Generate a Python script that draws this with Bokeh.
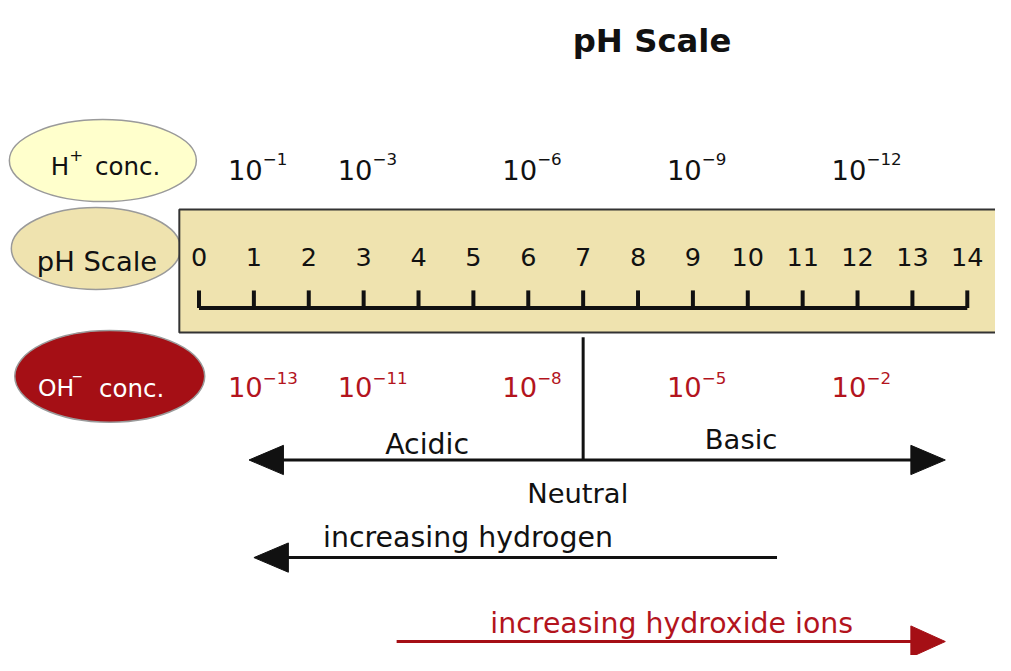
from bokeh.plotting import figure
from bokeh.models import Range1d
from bokeh.core.properties import value
from bokeh.embed import file_html
from bokeh.resources import INLINE

# ---------------- data ----------------
title_text = "pH Scale"
ph_values = list(range(0, 15))
ph_labels = [str(v) for v in ph_values]
h_conc_ph = [1, 3, 6, 9, 12]
h_conc_exp = [-1, -3, -6, -9, -12]
oh_conc_ph = [1, 3, 6, 9, 12]
oh_conc_exp = [-13, -11, -8, -5, -2]
neutral_ph = 7
ion_names = ["H", "OH"]
ion_charges = ["+", "\u2212"]
conc_word = "conc."
scale_label = "pH Scale"
region_labels = ["Acidic", "Basic", "Neutral"]
trend_labels = ["increasing hydrogen", "increasing hydroxide ions"]

# ---------------- layout helpers ----------------
W, H = 995, 655                # figure size (fits 1011x671 window with 8px margin)
RW, RH = 1011, 671             # design canvas
KX, KY = W / RW, H / RH
K = (KX + KY) / 2
PX0, S = 201.7, 55.76          # design pixel of pH 0, design pixels per pH unit


def X(px):
    return (px - PX0) / S


def fs(v):
    return f"{v * K:.1f}px"


BLACK = "#111111"
RED = "#B3141D"
DARKRED = "#A50F15"
TAN = "#EFE3AF"
PALE = "#FFFFCC"
DJ = value("DejaVu Sans")

p = figure(width=W, height=H, output_backend="svg", toolbar_location=None,
           x_range=Range1d(X(0), X(RW)), y_range=Range1d(RH, 0),
           x_axis_type=None, y_axis_type=None, min_border=0,
           outline_line_color=None, background_fill_color="white",
           border_fill_color="white")
p.grid.visible = False


def label(xpx, ypx, txt, size, color=BLACK, align="left", bold=False):
    p.text(x=[X(xpx)], y=[ypx], text=[txt], text_font=DJ, text_font_size=fs(size),
           text_font_style="bold" if bold else "normal", text_align=align,
           text_baseline="alphabetic", text_color=color)


# title
label(662, 42, title_text, 33, align="center", bold=True)

# side ellipses
p.ellipse(x=[X(104)], y=[164], width=190 * KX, height=84 * KY, width_units="screen",
          height_units="screen", fill_color=PALE, line_color="#9a9a9a", line_width=1.5)
p.ellipse(x=[X(97)], y=[254], width=172 * KX, height=84 * KY, width_units="screen",
          height_units="screen", fill_color=TAN, line_color="#9a9a9a", line_width=1.5)
p.ellipse(x=[X(111)], y=[385], width=193 * KX, height=94 * KY, width_units="screen",
          height_units="screen", fill_color=DARKRED, line_color="#9a9a9a", line_width=1.5)

# H+ conc.
label(51, 170, ion_names[0], 25)
label(77, 158, ion_charges[0], 17, align="center")
label(96, 170, conc_word, 25)
# pH Scale
label(98, 267, scale_label, 28, align="center")
# OH- conc.
label(38, 397, ion_names[1], 24, color="white")
label(78, 385, ion_charges[1], 14, color="white", align="center")
label(100, 397, conc_word, 25, color="white")

# ruler box
p.quad(left=[X(181.7)], right=[X(1040)], top=[214], bottom=[340], fill_color=TAN,
       line_color="#333333", line_width=2)

# ruler ticks and baseline
p.segment(x0=ph_values, y0=[297] * len(ph_values), x1=ph_values, y1=[315] * len(ph_values),
          line_color=BLACK, line_width=4)
p.segment(x0=[ph_values[0]], y0=[315], x1=[ph_values[-1]], y1=[315],
          line_color=BLACK, line_width=4)
p.text(x=ph_values, y=[263] * len(ph_values), text=ph_labels, text_font=DJ,
       text_font_size=fs(26), text_align="center", text_baseline="alphabetic",
       text_color=BLACK)


# concentration labels
def sup(e):
    return ("\u2212" if e < 0 else "") + str(abs(e))


OFF = 9 * KX
p.text(x=h_conc_ph, y=[174] * len(h_conc_ph), text=["10"] * len(h_conc_ph), x_offset=OFF,
       text_font=DJ, text_font_size=fs(28), text_align="right",
       text_baseline="alphabetic", text_color=BLACK)
p.text(x=h_conc_ph, y=[162] * len(h_conc_ph), text=[sup(e) for e in h_conc_exp], x_offset=OFF,
       text_font=DJ, text_font_size=fs(17), text_align="left",
       text_baseline="alphabetic", text_color=BLACK)
p.text(x=oh_conc_ph, y=[396] * len(oh_conc_ph), text=["10"] * len(oh_conc_ph), x_offset=OFF,
       text_font=DJ, text_font_size=fs(28), text_align="right",
       text_baseline="alphabetic", text_color=RED)
p.text(x=oh_conc_ph, y=[387] * len(oh_conc_ph), text=[sup(e) for e in oh_conc_exp], x_offset=OFF,
       text_font=DJ, text_font_size=fs(17), text_align="left",
       text_baseline="alphabetic", text_color=RED)

# neutral line
p.segment(x0=[neutral_ph], y0=[345], x1=[neutral_ph], y1=[471], line_color=BLACK, line_width=3)


def arrow_line(x0px, x1px, ypx, color):
    p.segment(x0=[X(x0px)], y0=[ypx], x1=[X(x1px)], y1=[ypx], line_color=color, line_width=3)


def head(tip_px, back_px, ypx, half, color):
    p.patch(x=[X(tip_px), X(back_px), X(back_px)], y=[ypx, ypx - half, ypx + half],
            fill_color=color, line_color=color, line_width=1)


# acidic / basic double arrow
arrow_line(285, 927, 470.7, BLACK)
head(252.5, 287.5, 470.7, 15, BLACK)
head(960, 925, 470.7, 15, BLACK)

# increasing hydrogen arrow
arrow_line(290, 789, 570.7, BLACK)
head(257.5, 292.5, 570.7, 15, BLACK)

# increasing hydroxide arrow
arrow_line(402.5, 927, 656.7, DARKRED)
head(960, 925, 656.7, 16, DARKRED)

# region texts
label(433.5, 455, region_labels[0], 29, align="center")
label(752.5, 450, region_labels[1], 28, align="center")
label(586.5, 505, region_labels[2], 28, align="center")
label(475, 550, trend_labels[0], 29, align="center")
label(682, 638, trend_labels[1], 29, color=RED, align="center")

open("out.html", "w").write(file_html(p, INLINE))
